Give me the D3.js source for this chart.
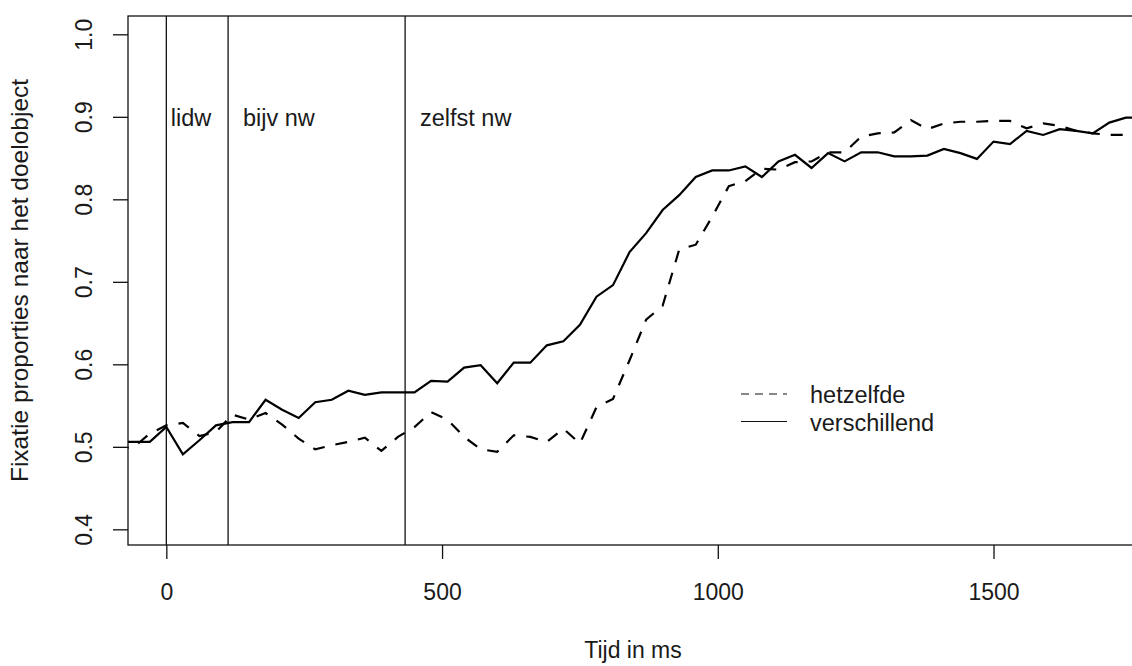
<!DOCTYPE html>
<html>
<head>
<meta charset="utf-8">
<script src="https://cdn.jsdelivr.net/npm/d3@7"></script>
<style>
  html, body { margin: 0; padding: 0; background: #ffffff; }
  svg { display: block; }
  text { font-family: "Liberation Sans", Arial, sans-serif; fill: #1a1a1a; }
</style>
</head>
<body>
<svg id="chart" width="1132" height="666"></svg>
<script>
// ---- data ----
const times = [-90, -60, -30, 0, 30, 60, 90, 120, 150, 180, 210, 240, 270, 300, 330, 360, 390, 420, 450,
  480, 510, 540, 570, 600, 630, 660, 690, 720, 750, 780, 810, 840, 870, 900, 930, 960, 990,
  1020, 1050, 1080, 1110, 1140, 1170, 1200, 1230, 1260, 1290, 1320, 1350, 1380, 1410, 1440,
  1470, 1500, 1530, 1560, 1590, 1620, 1650, 1680, 1710, 1740, 1770];

const hetzelfde = [0.499, 0.499, 0.516, 0.526, 0.529, 0.513, 0.518, 0.539, 0.533, 0.541, 0.527, 0.510,
  0.497, 0.502, 0.506, 0.511, 0.495, 0.512, 0.524, 0.542, 0.533, 0.512, 0.497, 0.494, 0.514,
  0.512, 0.506, 0.522, 0.504, 0.548, 0.558, 0.605, 0.654, 0.671, 0.739, 0.745, 0.779, 0.816,
  0.822, 0.837, 0.836, 0.845, 0.846, 0.857, 0.857, 0.876, 0.880, 0.881, 0.896, 0.885, 0.892,
  0.894, 0.894, 0.895, 0.895, 0.886, 0.892, 0.889, 0.883, 0.880, 0.878, 0.878, 0.878];

const verschillend = [0.506, 0.506, 0.506, 0.524, 0.491, 0.508, 0.526, 0.530, 0.530, 0.557, 0.545, 0.535,
  0.554, 0.557, 0.568, 0.563, 0.566, 0.566, 0.566, 0.580, 0.579, 0.596, 0.599, 0.577, 0.602,
  0.602, 0.623, 0.628, 0.648, 0.682, 0.696, 0.736, 0.759, 0.787, 0.805, 0.827, 0.835, 0.835,
  0.840, 0.827, 0.846, 0.854, 0.838, 0.856, 0.846, 0.857, 0.857, 0.852, 0.852, 0.853, 0.861,
  0.856, 0.849, 0.870, 0.867, 0.883, 0.878, 0.885, 0.883, 0.880, 0.893, 0.899, 0.899];

const boundaries = [0, 112, 433];
const segmentLabels = ["lidw", "bijv nw", "zelfst nw"];
const segmentLabelX = [8, 139, 460];
const segmentLabelY = 0.9;

const xTicks = [0, 500, 1000, 1500];
const yTicks = [0.4, 0.5, 0.6, 0.7, 0.8, 0.9, 1.0];

const legendLabels = ["hetzelfde", "verschillend"];

// ---- layout ----
(function () {
const svg = d3.select("#chart");
const pL = 128, pR = 1138, pT = 16, pB = 545;

const x = d3.scaleLinear().domain([-69.5, 1762]).range([pL, pR]);
const y = d3.scaleLinear().domain([0.381, 1.0222]).range([pB, pT]);

svg.append("defs").append("clipPath").attr("id", "plotclip")
  .append("rect").attr("x", pL).attr("y", pT).attr("width", pR - pL).attr("height", pB - pT);

// frame
svg.append("rect")
  .attr("x", pL).attr("y", pT).attr("width", pR - pL).attr("height", pB - pT)
  .attr("fill", "none").attr("stroke", "#111").attr("stroke-width", 1.3);

// x axis
const xAxis = d3.axisBottom(x).tickValues(xTicks).tickSize(14).tickPadding(0).tickFormat(d3.format("d"));
const gx = svg.append("g").attr("transform", `translate(0,${pB})`).call(xAxis);
gx.select(".domain").remove();
gx.selectAll(".tick line").attr("stroke", "#111").attr("stroke-width", 1.3);
gx.selectAll(".tick text").attr("y", 55).attr("dy", 0)
  .style("font-size", "23px").style("font-family", "'Liberation Sans', Arial, sans-serif").attr("fill", "#1a1a1a");

// y axis
const yAxis = d3.axisLeft(y).tickValues(yTicks).tickSize(15).tickFormat(d3.format(".1f"));
const gy = svg.append("g").attr("transform", `translate(${pL},0)`).call(yAxis);
gy.select(".domain").remove();
gy.selectAll(".tick line").attr("stroke", "#111").attr("stroke-width", 1.3);
gy.selectAll(".tick text")
  .attr("x", 0).attr("dy", 0)
  .attr("transform", "translate(-36,0) rotate(-90)")
  .attr("text-anchor", "middle")
  .style("font-size", "23px").style("font-family", "'Liberation Sans', Arial, sans-serif").attr("fill", "#1a1a1a");

// axis titles
svg.append("text").attr("x", (pL + pR) / 2).attr("y", 658)
  .attr("text-anchor", "middle").style("font-size", "23px").text("Tijd in ms");
svg.append("text").attr("transform", `translate(28,${(pT + pB) / 2}) rotate(-90)`)
  .attr("text-anchor", "middle").style("font-size", "24.5px").text("Fixatie proporties naar het doelobject");

// boundary lines
svg.append("g").selectAll("line").data(boundaries).join("line")
  .attr("x1", d => x(d)).attr("x2", d => x(d)).attr("y1", pT).attr("y2", pB)
  .attr("stroke", "#111").attr("stroke-width", 1.3);

// segment labels
svg.append("g").selectAll("text").data(segmentLabels).join("text")
  .attr("x", (d, i) => x(segmentLabelX[i])).attr("y", y(segmentLabelY)).attr("dy", 9.5)
  .style("font-size", "23.5px").text(d => d);

// lines
const plot = svg.append("g").attr("clip-path", "url(#plotclip)");
const line = d3.line().x((d, i) => x(times[i])).y(d => y(d));

plot.append("path").datum(hetzelfde).attr("d", line)
  .attr("fill", "none").attr("stroke", "#000").attr("stroke-width", 2.2)
  .attr("stroke-dasharray", "12,11");
plot.append("path").datum(verschillend).attr("d", line)
  .attr("fill", "none").attr("stroke", "#000").attr("stroke-width", 2.2);

// legend
const lg = svg.append("g");
const legY = [394, 421.5];
lg.selectAll("line").data(legendLabels).join("line")
  .attr("x1", 741).attr("x2", 787).attr("y1", (d, i) => legY[i]).attr("y2", (d, i) => legY[i])
  .attr("stroke", "#111").attr("stroke-width", 1.2)
  .attr("stroke-dasharray", (d, i) => i === 0 ? "8,6" : null);
lg.selectAll("text").data(legendLabels).join("text")
  .attr("x", 810).attr("y", (d, i) => legY[i]).attr("dy", 9)
  .style("font-size", "23.5px").text(d => d);
})();
</script>
</body>
</html>
